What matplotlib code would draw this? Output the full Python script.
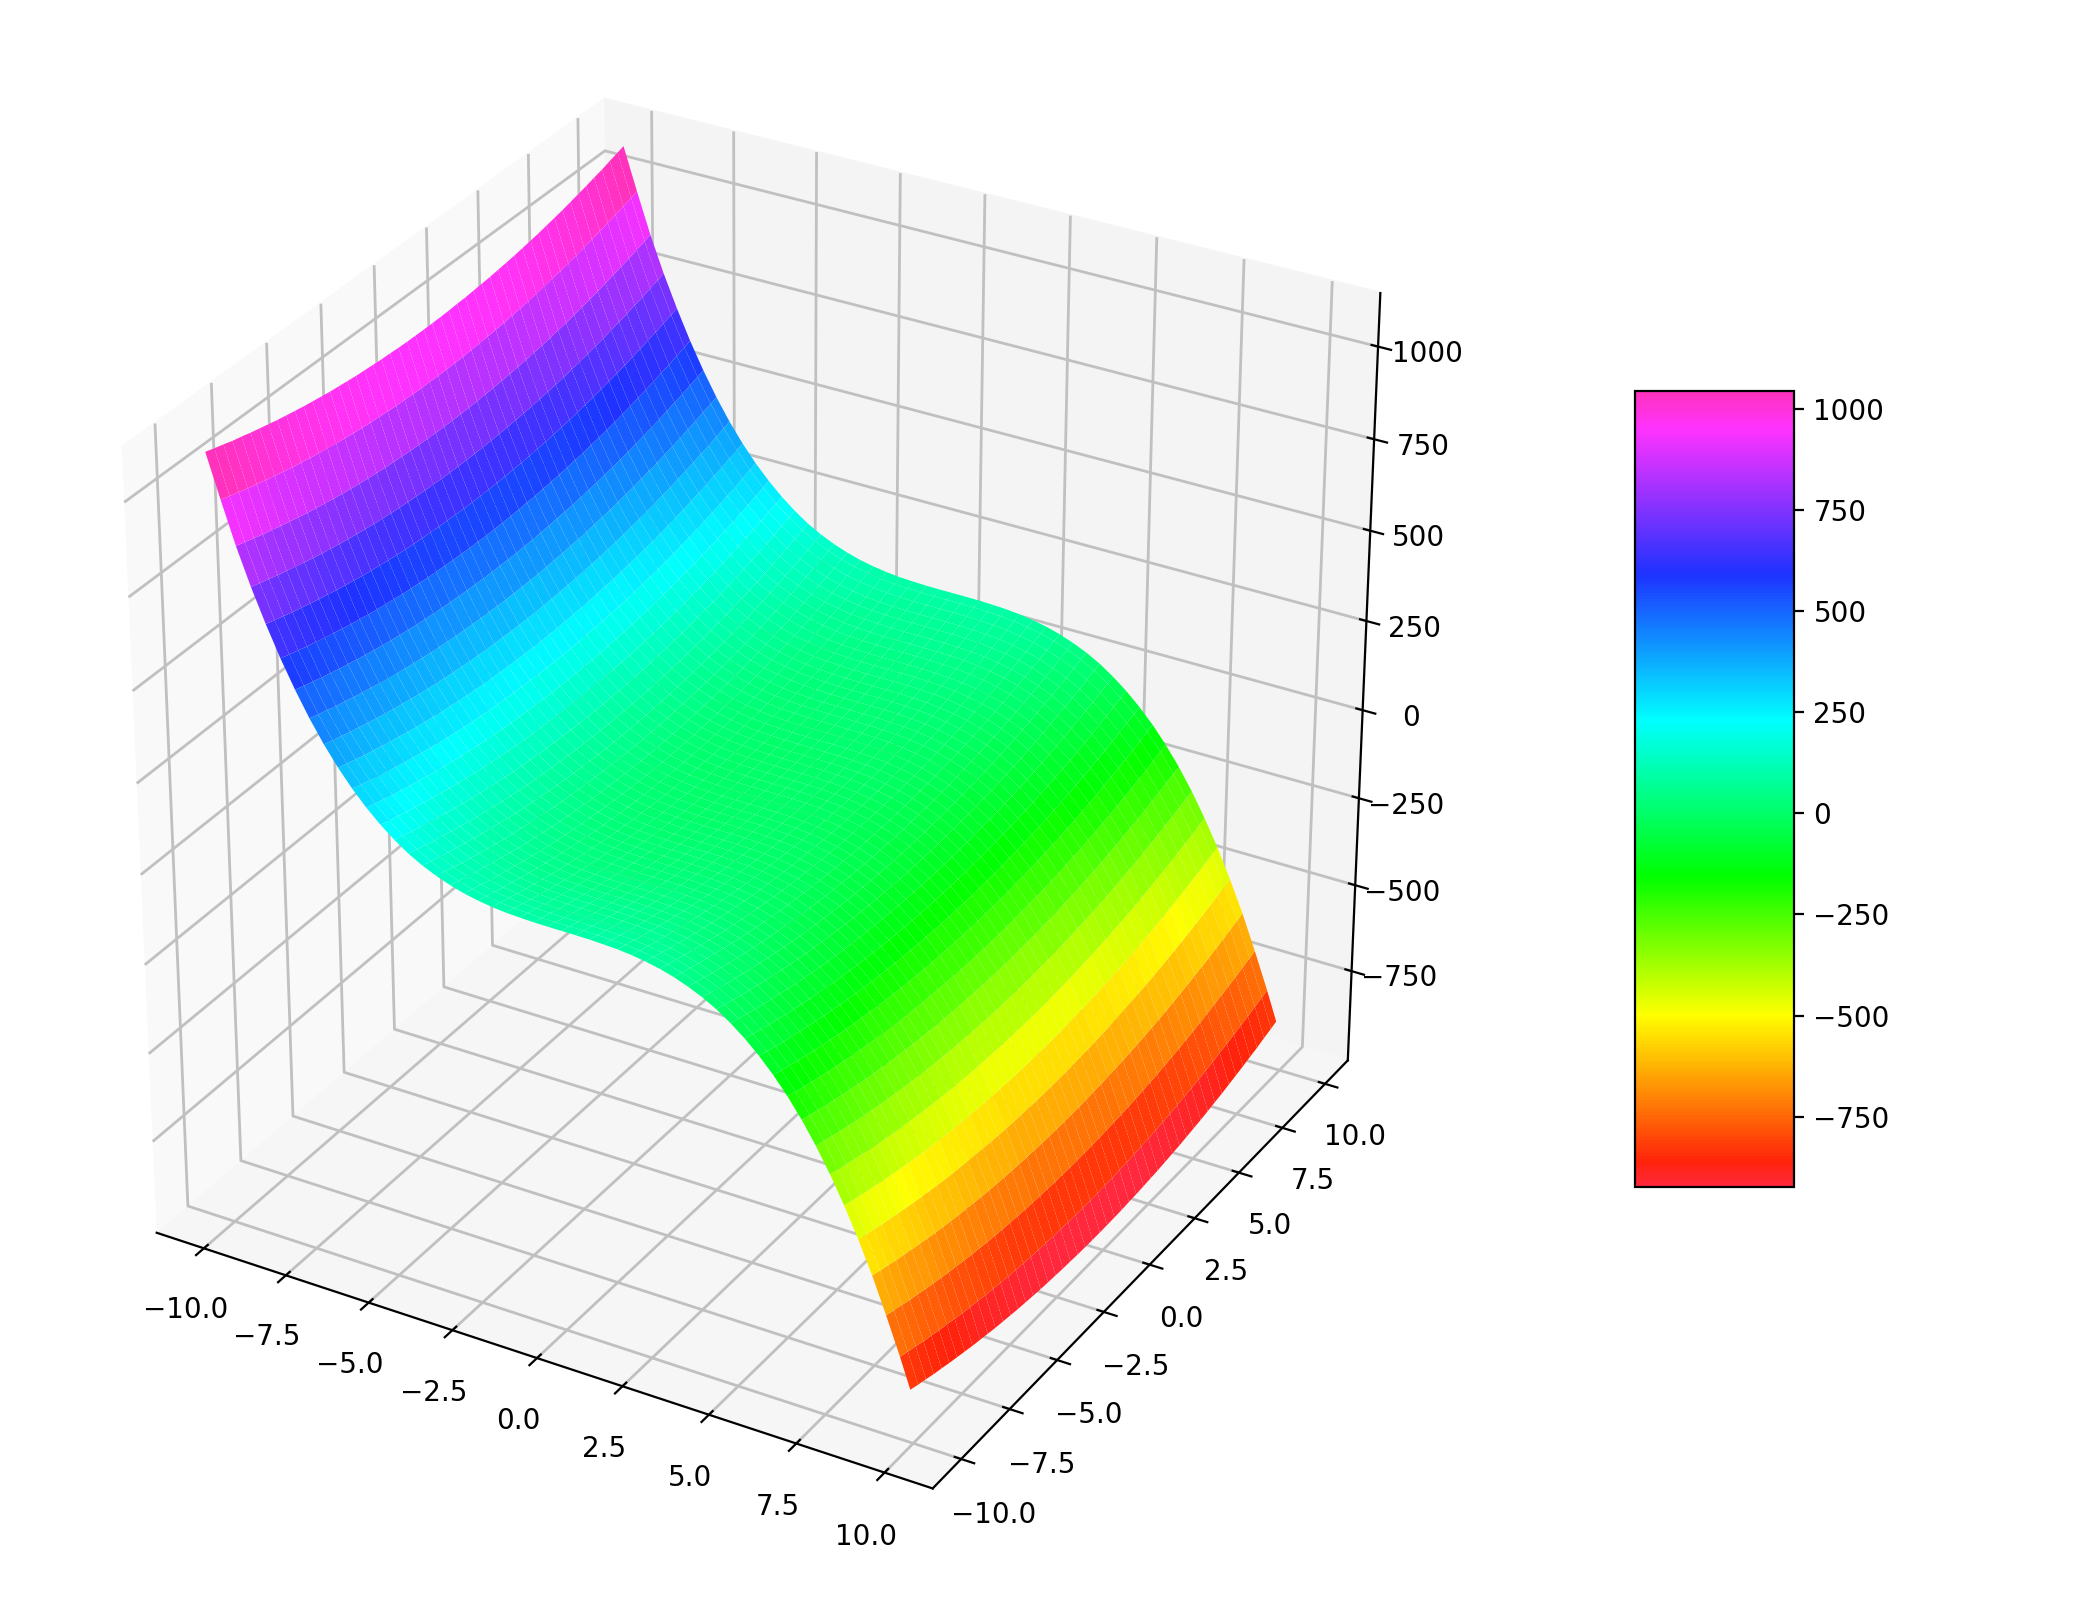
import numpy as np
import matplotlib
matplotlib.use("Agg")
import matplotlib.pyplot as plt
from matplotlib.colors import LinearSegmentedColormap

# grid positions
x_vals = [-10.0, -9.6, -9.2, -8.8, -8.4, -8.0, -7.6, -7.2, -6.8, -6.4,
          -6.0, -5.6, -5.2, -4.8, -4.4, -4.0, -3.6, -3.2, -2.8, -2.4,
          -2.0, -1.6, -1.2, -0.8, -0.4, 0.0, 0.4, 0.8, 1.2, 1.6,
          2.0, 2.4, 2.8, 3.2, 3.6, 4.0, 4.4, 4.8, 5.2, 5.6,
          6.0, 6.4, 6.8, 7.2, 7.6, 8.0, 8.4, 8.8, 9.2, 9.6, 9.9]
y_vals = list(x_vals)

# height of the surface read along the x direction (at y = 0)
height_x = [1005, 890, 779, 681, 593, 512, 439, 373, 314, 262,
            216, 176, 141, 111, 85, 64, 47, 33, 22, 14,
            8, 4, 2, 0.5, 0.1, 0, -0.1, -0.5, -2, -4,
            -8, -14, -22, -33, -47, -64, -85, -111, -141, -176,
            -216, -262, -314, -373, -439, -512, -593, -681, -779, -882, -965]
# extra height read along the y direction
height_y = [100, 92, 85, 77, 71, 64, 58, 52, 46, 41,
            36, 31, 27, 23, 19, 16, 13, 10, 8, 6,
            4, 3, 1.4, 0.6, 0.2, 0, 0.2, 0.6, 1.4, 3,
            4, 6, 8, 10, 13, 16, 19, 23, 27, 31,
            36, 41, 46, 52, 58, 64, 71, 77, 85, 92, 98]

z_ticks = [-750, -500, -250, 0, 250, 500, 750, 1000]

# colours, bottom to top
cbar_stops = [0.0, 0.03, 0.215, 0.39, 0.586, 0.771, 0.954, 1.0]
cbar_colors = ["#ff283c", "#ff230a", "#ffff00", "#00ff00", "#00ffff", "#1e32ff", "#ff32ff", "#ff32be"]
rainbow = LinearSegmentedColormap.from_list("rainbow_read", list(zip(cbar_stops, cbar_colors)))

plt.rcParams["grid.color"] = "#c0c0c0"
plt.rcParams["grid.linewidth"] = 1.0

X, Y = np.meshgrid(x_vals, y_vals)
Z = np.add.outer(height_y, height_x)

fig = plt.figure(figsize=(10.39, 8), dpi=200)
ax = fig.add_axes([-11 / 2078, 59 / 1600, 1506 / 2078, 1506 / 1600], projection="3d")
surf = ax.plot_surface(X, Y, Z, cmap=rainbow, linewidth=0, rstride=1, cstride=1)
ax.set_box_aspect((1, 1, 1))
ax.set_zlim(-1013, 1143)
ax.set_zticks(z_ticks)

# panes are a bit lighter than the default ones
ax.xaxis.set_pane_color("#f9f9f9")
ax.yaxis.set_pane_color("#f4f4f4")
ax.zaxis.set_pane_color("#f6f6f6")

cax = fig.add_axes([1635 / 2078, 413 / 1600, 159 / 2078, 796 / 1600])
fig.colorbar(surf, cax=cax)

fig.savefig("out.png")
